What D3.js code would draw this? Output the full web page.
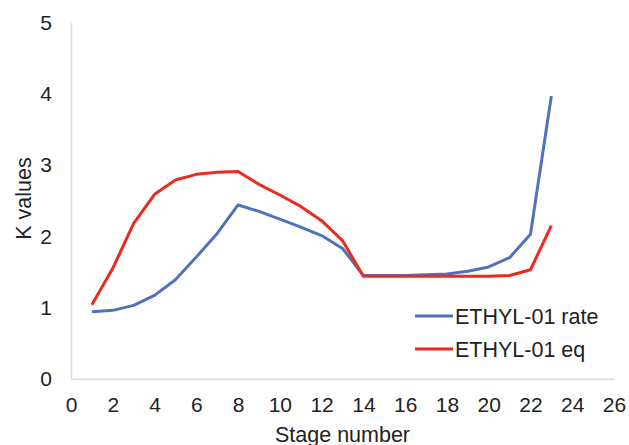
<!DOCTYPE html>
<html>
<head>
<meta charset="utf-8">
<title>K values</title>
<script src="https://cdn.jsdelivr.net/npm/d3@7"></script>
<style>
  body, html { margin: 0; padding: 0; background: #fff; }
  svg { display: block; }
  svg text { font-family: Arial, "Liberation Sans", sans-serif; }
  .axis path { stroke: #d9d9d9; stroke-width: 1.5px; }
  .axis line { display: none; }
  .axis text { fill: #222; font-size: 21px; }
  .series { fill: none; stroke-width: 3px; stroke-linejoin: round; }
</style>
</head>
<body>
<div id="chart"></div>
<script>
// stage numbers
var stages = [1, 2, 3, 4, 5, 6, 7, 8, 9, 10, 11, 12, 13, 14, 15, 16, 17, 18, 19, 20, 21, 22, 23];

// K values
var rateValues = [0.94, 0.96, 1.03, 1.17, 1.39, 1.71, 2.04, 2.44, 2.35, 2.24, 2.13, 2.01, 1.83, 1.45,
                  1.45, 1.45, 1.46, 1.47, 1.51, 1.57, 1.70, 2.03, 3.97];
var eqValues = [1.04, 1.55, 2.18, 2.59, 2.79, 2.87, 2.90, 2.91, 2.73, 2.58, 2.42, 2.22, 1.94, 1.44,
                1.44, 1.44, 1.44, 1.44, 1.44, 1.44, 1.45, 1.53, 2.15];

var xTicks = [0, 2, 4, 6, 8, 10, 12, 14, 16, 18, 20, 22, 24, 26];
var yTicks = [0, 1, 2, 3, 4, 5];

var seriesNames = ["ETHYL-01 rate", "ETHYL-01 eq"];
var seriesColors = ["#5072bd", "#ec2a20"];

var width = 629, height = 445;
var margin = {left: 71, right: 15, top: 22.7, bottom: 66.3};

var svg = d3.select("#chart").append("svg")
    .attr("width", width)
    .attr("height", height);

var x = d3.scaleLinear().domain([0, 26]).range([margin.left, width - margin.right]);
var y = d3.scaleLinear().domain([0, 5]).range([height - margin.bottom, margin.top]);

// x axis
var gx = svg.append("g")
    .attr("class", "axis")
    .attr("transform", "translate(0," + y(0) + ")")
    .call(d3.axisBottom(x).tickValues(xTicks).tickFormat(d3.format("d"))
      .tickSize(0).tickSizeOuter(0).tickPadding(18));
gx.selectAll("text").attr("dy", "0.71em");

// y axis
var gy = svg.append("g")
    .attr("class", "axis")
    .attr("transform", "translate(" + x(0) + ",0)")
    .call(d3.axisLeft(y).tickValues(yTicks).tickFormat(d3.format("d"))
      .tickSize(0).tickSizeOuter(0).tickPadding(19));

// lines
var line = d3.line()
    .x(function(d) { return x(d[0]); })
    .y(function(d) { return y(d[1]); });

var allSeries = [rateValues, eqValues];
allSeries.forEach(function(vals, i) {
  svg.append("path")
    .attr("class", "series")
    .attr("stroke", seriesColors[i])
    .attr("d", line(stages.map(function(s, j) { return [s, vals[j]]; })));
});

// axis titles
svg.append("text")
    .attr("x", (x(0) + x(26)) / 2)
    .attr("y", 442)
    .attr("text-anchor", "middle")
    .style("font-size", "21.5px")
    .style("fill", "#222")
    .text("Stage number");

svg.append("text")
    .attr("transform", "translate(30.5," + 198.5 + ") rotate(-90)")
    .attr("text-anchor", "middle")
    .style("font-size", "21.5px")
    .style("fill", "#222")
    .text("K values");

// legend
var legend = svg.append("g").attr("transform", "translate(415,316)");
seriesNames.forEach(function(name, i) {
  var row = legend.append("g").attr("transform", "translate(0," + (i * 33) + ")");
  row.append("line")
    .attr("x1", 0).attr("x2", 38)
    .attr("y1", 0).attr("y2", 0)
    .attr("stroke", seriesColors[i])
    .attr("stroke-width", 3);
  row.append("text")
    .attr("x", 40)
    .attr("y", 0)
    .attr("dy", "0.35em")
    .style("font-size", "21.5px")
    .style("fill", "#222")
    .text(name);
});
</script>
</body>
</html>
